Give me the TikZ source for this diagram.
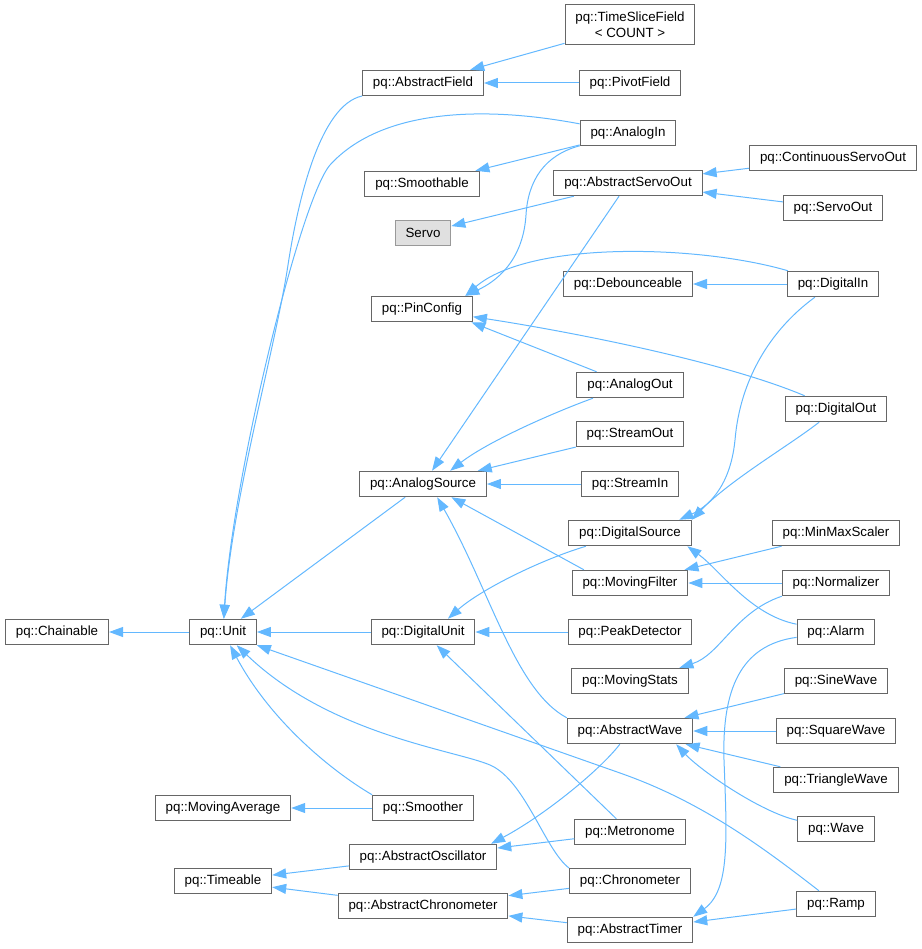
\documentclass[tikz,border=0pt]{standalone}
\usepackage{fontspec}
\setmainfont{Liberation Sans}
\usetikzlibrary{arrows.meta}
\definecolor{inhblue}{HTML}{63B8FF}
\definecolor{boxgray}{HTML}{666666}
\definecolor{undocgray}{HTML}{999999}
\definecolor{undocfill}{HTML}{E0E0E0}
\tikzset{
		>={Triangle[length=10.5pt,width=7.5pt]}
	}
\tikzset{
		cls/.style={draw=boxgray, fill=white, line width=0.75pt, inner xsep=7.8pt, inner ysep=0pt,
			minimum height=19.1pt, font=\fontsize{10pt}{11.8pt}\selectfont},
		undoc/.style={cls, draw=undocgray, fill=undocfill},
		inh/.style={->, draw=inhblue, line width=0.75pt}
	}

\begin{document}
\begin{tikzpicture}[x=0.75pt, y=-0.75pt] % (one unit = one pixel of the class graph, y going down)
		\useasboundingbox (0,0) rectangle (921,949);
		% the classes
		\node[cls, align=center, minimum height=30pt] (tsf) at (630,25) {pq::TimeSliceField\\< COUNT >};
		\node[undoc] (servo) at (423,233) {Servo};
		\foreach \n/\x/\y/\t in {afield/423/83/AbstractField, pivot/630/83/PivotField, ain/628/133/AnalogIn,
			smooth/422/184/Smoothable, aservo/628/183/AbstractServoOut, cservo/833/158/ContinuousServoOut,
			servoout/833/208/ServoOut, pin/422/309/PinConfig, deb/628/284/Debounceable, din/833/284/DigitalIn,
			aout/630/385/AnalogOut, dout/836/409/DigitalOut, sout/630/434/StreamOut, asrc/423/484/AnalogSource,
			sin/630/484/StreamIn, dsrc/630/533/DigitalSource, minmax/836/533/MinMaxScaler, mfilt/630/583/MovingFilter,
			norm/836/583/Normalizer, chain/57/632/Chainable, unit/223/632/Unit, dunit/423/632/DigitalUnit,
			peak/630/632/PeakDetector, alarm/836/632/Alarm, mstats/630/681/MovingStats, sine/836/681/SineWave,
			awave/630/731/AbstractWave, square/836/731/SquareWave, tri/836/780/TriangleWave, mavg/223/808/MovingAverage,
			smoother/423/808/Smoother, wave/836/829/Wave, metro/630/832/Metronome, aosc/423/857/AbstractOscillator,
			chrono/630/881/Chronometer, timeable/223/881/Timeable, achrono/423/906/AbstractChronometer,
			ramp/836/904/Ramp, atimer/630/930/AbstractTimer}{
			\node[cls] (\n) at (\x,\y) {pq::\t};
		}
		% straight inheritance arrows (child/parent)
		\foreach \a/\b in {tsf/afield, pivot/afield, ain/smooth, aservo/servo, cservo/aservo, servoout/aservo,
			aservo/asrc, din/deb, aout/pin.-15, sout/asrc, sin/asrc, asrc/unit, mfilt.164/asrc.-25, minmax/mfilt,
			norm/mfilt, unit/chain, dunit/unit, peak/dunit, metro/dunit, sine/awave, square/awave, tri/awave,
			smoother/mavg, metro/aosc, aosc/timeable, achrono/timeable, chrono/achrono, atimer/achrono, ramp/atimer}
			\draw[inh] (\a) -- (\b);
		% curved ones
		\draw[inh] (afield) .. controls (320,105) and (298,200) .. (288,265) .. controls (275,350) and (232,500) .. (unit);
		\draw[inh] (ain) .. controls (480,105) and (380,110) .. (330,165) .. controls (300,200) and (232,480) .. (unit);
		\draw[inh] (ain) .. controls (545,155) and (528,180) .. (526,215) .. controls (523,262) and (495,282) .. (pin.17);
		\draw[inh] (din) .. controls (700,245) and (530,240) .. (pin.17);
		\draw[inh] (dout) .. controls (720,360) and (560,330) .. (pin);
		\draw[inh] (aout) .. controls (560,410) and (490,440) .. (asrc.26);
		\draw[inh] (awave.north west) .. controls (515,690) and (490,590) .. (asrc.-43);
		\draw[inh] (dsrc) .. controls (540,560) and (480,590) .. (dunit.28);
		\draw[inh] (norm.south west) .. controls (735,612) and (720,655) .. (mstats.15);
		\draw[inh] (alarm) .. controls (750,615) and (720,570) .. (dsrc.-13);
		\draw[inh] (din) .. controls (770,330) and (740,380) .. (735,440) .. controls (730,490) and (705,508) .. (dsrc.15);
		\draw[inh] (dout) .. controls (790,445) and (730,480) .. (dsrc.12);
		\draw[inh] (alarm) .. controls (740,645) and (722,690) .. (724,760) .. controls (727,840) and (730,890) .. (atimer.north east);
		\draw[inh] (wave) .. controls (760,812) and (700,770) .. (awave.-16);
		\draw[inh] (awave) .. controls (600,770) and (545,815) .. (aosc.11);
		\draw[inh] (ramp) .. controls (760,845) and (700,801) .. (620,773) -- (unit.south east);
		\draw[inh] (chrono.168) .. controls (545,850) and (525,780) .. (490,765) .. controls (455,750) and (330,735) .. (unit);
		\draw[inh] (smoother.north west) .. controls (330,770) and (270,720) .. (unit);
	\end{tikzpicture}
\end{document}
